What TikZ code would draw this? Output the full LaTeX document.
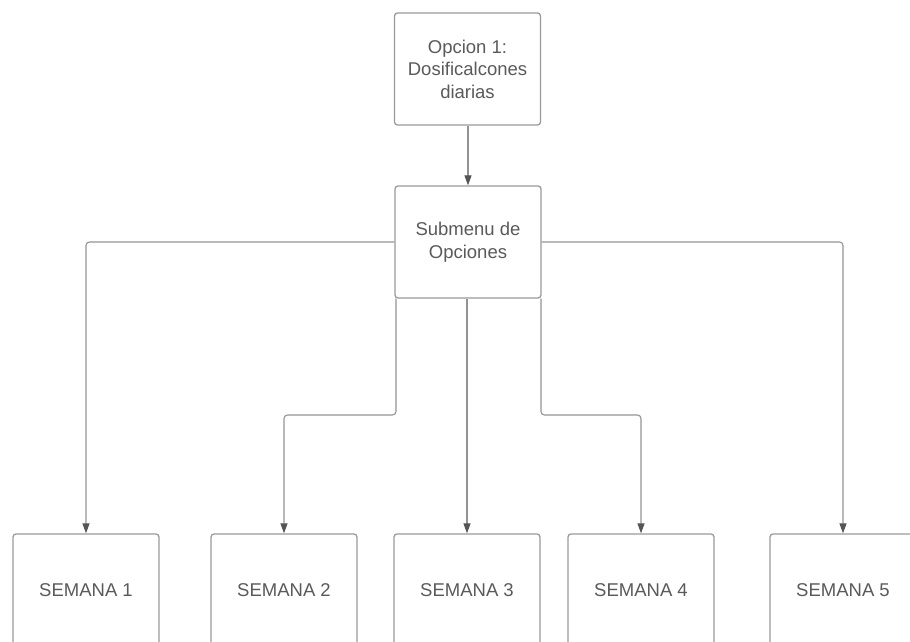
\documentclass[tikz,border=0pt]{standalone}
\usepackage{fontspec}
\setmainfont{Liberation Sans}
\usetikzlibrary{arrows.meta}
\definecolor{edgegray}{HTML}{9A9A9A}
\definecolor{linegray}{HTML}{939393}
\definecolor{tipgray}{HTML}{555555}
\definecolor{textgray}{HTML}{5A5A5A}
\begin{document}
\begin{tikzpicture}[x=1pt,y=-1pt,
  box/.style={draw=edgegray,line width=1.3pt,rounded corners=3pt,fill=white,
    minimum width=146pt,minimum height=112pt,inner sep=2pt,align=center,
    text=textgray,font=\fontsize{18.5}{22.5}\selectfont},
  conn/.style={draw=linegray,line width=1.1pt,rounded corners=3.5pt,
    -{Triangle[length=10pt,width=7pt,fill=tipgray,color=tipgray]}}]
\useasboundingbox (0,0) rectangle (910,642);
\clip (0,0) rectangle (910,642);

% main nodes
\node[box] (op) at (467.5,69) {Opcion 1:\\Dosificalcones\\diarias};
\node[box] (sub) at (468,242) {Submenu de\\Opciones};

% weekly boxes
\node[box] (s1) at (86,590) {SEMANA 1};
\node[box] (s2) at (284,590) {SEMANA 2};
\node[box] (s3) at (467,590) {SEMANA 3};
\node[box] (s4) at (641,590) {SEMANA 4};
\node[box] (s5) at (843,590) {SEMANA 5};

% bend points of the inner branches
\coordinate (m2) at (396,415);
\coordinate (m4) at (541,415);

% connectors
\draw[conn] (op.south -| sub.north) -- (sub.north);
\draw[conn] (sub.west) -| (s1.north);
\draw[conn] (sub.south -| m2) -- (m2) -| (s2.north);
\draw[conn] (sub.south -| s3.north) -- (s3.north);
\draw[conn] (sub.south -| m4) -- (m4) -| (s4.north);
\draw[conn] (sub.east) -| (s5.north);
\end{tikzpicture}
\end{document}
